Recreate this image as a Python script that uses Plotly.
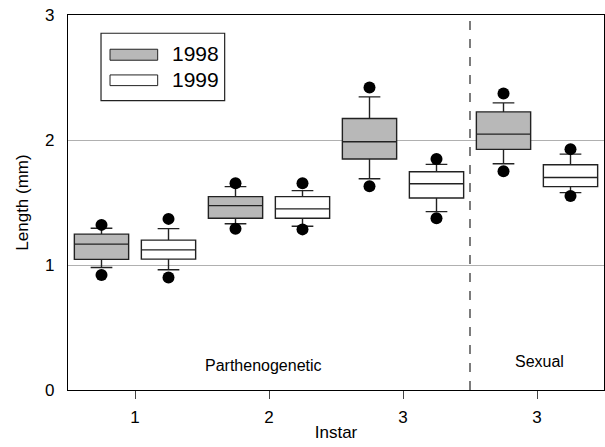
import plotly.graph_objects as go

# ---- data ----
group_names = ["Parthenogenetic 1", "Parthenogenetic 2", "Parthenogenetic 3", "Sexual 3"]
tick_labels = ["1", "2", "3", "3"]
positions = [0, 1, 2, 3]

# 1998
low_dot_98 = [0.92, 1.29, 1.63, 1.75]
low_cap_98 = [0.98, 1.33, 1.69, 1.81]
q1_98 = [1.045, 1.374, 1.848, 1.925]
med_98 = [1.167, 1.475, 1.986, 2.047]
q3_98 = [1.247, 1.547, 2.172, 2.225]
up_cap_98 = [1.294, 1.627, 2.345, 2.297]
up_dot_98 = [1.321, 1.654, 2.42, 2.372]

# 1999
low_dot_99 = [0.90, 1.285, 1.374, 1.552]
low_cap_99 = [0.962, 1.31, 1.427, 1.579]
q1_99 = [1.047, 1.374, 1.536, 1.627]
med_99 = [1.121, 1.449, 1.65, 1.70]
q3_99 = [1.199, 1.547, 1.746, 1.802]
up_cap_99 = [1.291, 1.595, 1.805, 1.887]
up_dot_99 = [1.369, 1.654, 1.848, 1.927]

years = ["1998", "1999"]
FONT = "Liberation Sans, Arial, sans-serif"
GRAY = "#b8b8b8"
LINE = "#222222"

fig = go.Figure()

series = [
    (years[0], GRAY, q1_98, med_98, q3_98, low_cap_98, up_cap_98, low_dot_98, up_dot_98, -0.25),
    (years[1], "white", q1_99, med_99, q3_99, low_cap_99, up_cap_99, low_dot_99, up_dot_99, 0.25),
]

for name, fill, q1, med, q3, lo, hi, ldot, udot, off in series:
    fig.add_trace(go.Box(
        x=positions, q1=q1, median=med, q3=q3, lowerfence=lo, upperfence=hi,
        name=name, fillcolor=fill, line=dict(color=LINE, width=1.4),
        whiskerwidth=0.4, boxpoints=False, showlegend=False, offsetgroup=name,
    ))

for name, fill, q1, med, q3, lo, hi, ldot, udot, off in series:
    xs = [p + off for p in positions]
    fig.add_trace(go.Scatter(
        x=xs + xs, y=ldot + udot, mode="markers",
        marker=dict(color="black", size=12), showlegend=False, hoverinfo="y",
    ))

# dashed separator between parthenogenetic and sexual
fig.add_shape(type="line", xref="x", yref="y", x0=2.5, x1=2.5, y0=0, y1=3,
              line=dict(color="#111", width=1.1, dash="dash"))

# custom legend
fig.add_shape(type="rect", xref="paper", yref="paper", x0=0.0616, x1=0.2923,
              y0=0.7718, y1=0.9513, line=dict(color=LINE, width=1.2), fillcolor="white")
fig.add_shape(type="rect", xref="paper", yref="paper", x0=0.0784, x1=0.1673,
              y0=0.8794, y1=0.9087, line=dict(color=LINE, width=1), fillcolor=GRAY)
fig.add_shape(type="rect", xref="paper", yref="paper", x0=0.0784, x1=0.1673,
              y0=0.8117, y1=0.8402, line=dict(color=LINE, width=1), fillcolor="white")
fig.add_annotation(xref="paper", yref="paper", x=0.1903, y=0.8961, text=years[0],
                   showarrow=False, xanchor="left", yanchor="middle",
                   font=dict(size=21, color="black", family=FONT))
fig.add_annotation(xref="paper", yref="paper", x=0.1903, y=0.8269, text=years[1],
                   showarrow=False, xanchor="left", yanchor="middle",
                   font=dict(size=21, color="black", family=FONT))

fig.add_annotation(x=0.96, y=0.198, xref="x", yref="y", text="Parthenogenetic",
                   showarrow=False, font=dict(size=16, color="black", family=FONT))
fig.add_annotation(x=3.02, y=0.23, xref="x", yref="y", text="Sexual",
                   showarrow=False, font=dict(size=16, color="black", family=FONT))

fig.update_layout(
    width=605, height=447,
    margin=dict(l=68, r=1, t=15, b=57),
    paper_bgcolor="white", plot_bgcolor="white",
    boxmode="group", boxgap=0, boxgroupgap=0.19,
    font=dict(family=FONT, size=17, color="black"),
    showlegend=False,
)
fig.update_xaxes(
    range=[-0.5, 3.5], tickvals=positions, ticktext=tick_labels,
    showline=True, mirror=True, linecolor="black", linewidth=1.3,
    ticks="outside", ticklen=8, tickcolor="#444", showgrid=False, zeroline=False,
    ticklabelstandoff=3,
    title=dict(text="Instar", font=dict(size=17), standoff=0),
    tickfont=dict(size=17),
)
fig.update_yaxes(
    range=[0, 3], tickvals=[0, 1, 2, 3],
    showline=True, mirror=True, linecolor="black", linewidth=1.3,
    ticks="outside", ticklen=0, ticklabelstandoff=9,
    showgrid=True, gridcolor="#b0b0b0", gridwidth=1, zeroline=False,
    title=dict(text="Length (mm)", font=dict(size=17), standoff=12),
    tickfont=dict(size=17),
)

fig.write_html("out.html")
